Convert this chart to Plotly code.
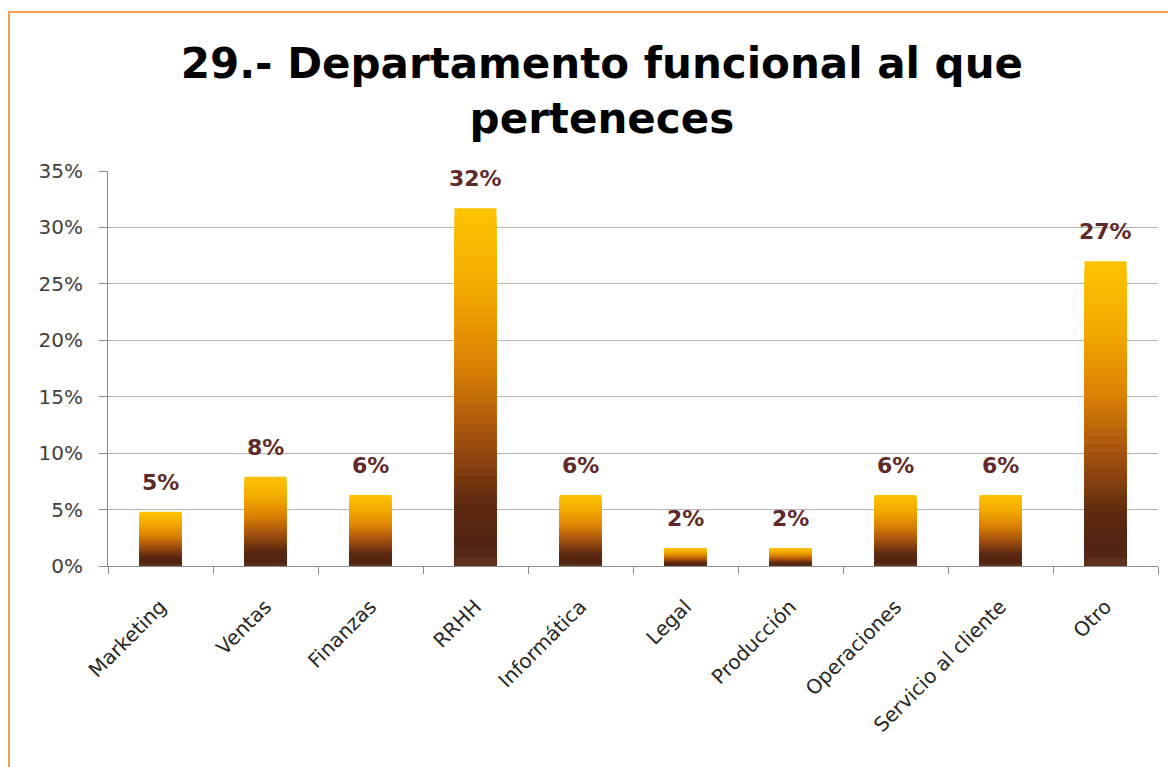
import plotly.graph_objects as go

# Datos (porcentaje de respuestas)
categorias = ["Marketing", "Ventas", "Finanzas", "RRHH", "Informática", "Legal",
              "Producción", "Operaciones", "Servicio al cliente", "Otro"]
porcentajes = [4.8, 7.9, 6.3, 31.7, 6.3, 1.6, 1.6, 6.3, 6.3, 27.0]
etiquetas = ["5%", "8%", "6%", "32%", "6%", "2%", "2%", "6%", "6%", "27%"]
ticks_y = [0, 5, 10, 15, 20, 25, 30, 35]
ticks_y_texto = ["0%", "5%", "10%", "15%", "20%", "25%", "30%", "35%"]

# degradado vertical de la barra: (fracción de altura, color) de arriba a abajo
DEGRADADO = [
    (1.00, (252, 194, 0)),
    (0.78, (242, 168, 0)),
    (0.58, (220, 130, 4)),
    (0.38, (165, 82, 14)),
    (0.18, (92, 40, 16)),
    (0.06, (80, 36, 18)),
    (0.00, (105, 60, 40)),
]
PASOS = 40
GRANATE = "#5E2A2A"
NARANJA = "#EE9E55"

# márgenes en píxeles del área de trazado (la página añade 8 px de margen)
L, R, T, B = 100, 26, 163, 209
W, H = 1176, 767
PW, PH = W - L - R, H - T - B


def color_en(f):
    for (f1, c1), (f2, c2) in zip(DEGRADADO, DEGRADADO[1:]):
        if f2 <= f <= f1:
            t = (f - f2) / (f1 - f2) if f1 > f2 else 0
            c = [round(c2[i] + (c1[i] - c2[i]) * t) for i in range(3)]
            return f"rgb({c[0]},{c[1]},{c[2]})"
    return "rgb(105,60,40)"


fig = go.Figure()

# barras anidadas: de la más alta (color superior) a la más baja (color inferior)
for k in range(PASOS):
    f = 1 - k / PASOS
    fig.add_trace(go.Bar(
        x=categorias, y=[v * f for v in porcentajes],
        width=0.4,
        marker=dict(color=color_en(f), line=dict(width=0)),
        hoverinfo="skip", showlegend=False,
    ))

for cat, v, txt in zip(categorias, porcentajes, etiquetas):
    fig.add_annotation(
        x=cat, y=v, text=f"<b>{txt}</b>", showarrow=False,
        yanchor="bottom", yshift=15,
        font=dict(family="DejaVu Sans", size=22, color=GRANATE),
    )

# marco naranja del gráfico
fig.add_shape(
    type="rect", xref="paper", yref="paper",
    x0=(1 - L) / PW, x1=(W + 20 - L) / PW,
    y0=(H - B - 800) / PH, y1=(H - B - 4) / PH,
    line=dict(color=NARANJA, width=2), layer="below",
)

fig.update_layout(
    title=dict(
        text="<b>29.- Departamento funcional al que<br>perteneces</b>",
        x=0.505, xanchor="center", y=1 - 70 / H, yanchor="middle",
        font=dict(family="DejaVu Sans", size=42, color="#000000"),
    ),
    barmode="overlay",
    width=W, height=H,
    margin=dict(l=L, r=R, t=T, b=B),
    paper_bgcolor="white", plot_bgcolor="white",
    xaxis=dict(
        tickangle=-45,
        tickfont=dict(family="DejaVu Sans", size=20, color="#262626"),
        showline=True, linecolor="#8C8C8C", linewidth=1,
        ticks="outside", tickson="boundaries", ticklen=7, tickcolor="#8C8C8C",
        ticklabelstandoff=20,
    ),
    yaxis=dict(
        range=[0, 35], tickvals=ticks_y, ticktext=ticks_y_texto,
        tickfont=dict(family="DejaVu Sans", size=20, color="#404040"),
        showgrid=True, gridcolor="#B4B4B4", gridwidth=1,
        showline=True, linecolor="#8C8C8C", linewidth=1,
        ticks="outside", ticklen=8, tickcolor="#8C8C8C",
        ticklabelstandoff=12,
        zeroline=False,
    ),
)

fig.write_html("out.html")
